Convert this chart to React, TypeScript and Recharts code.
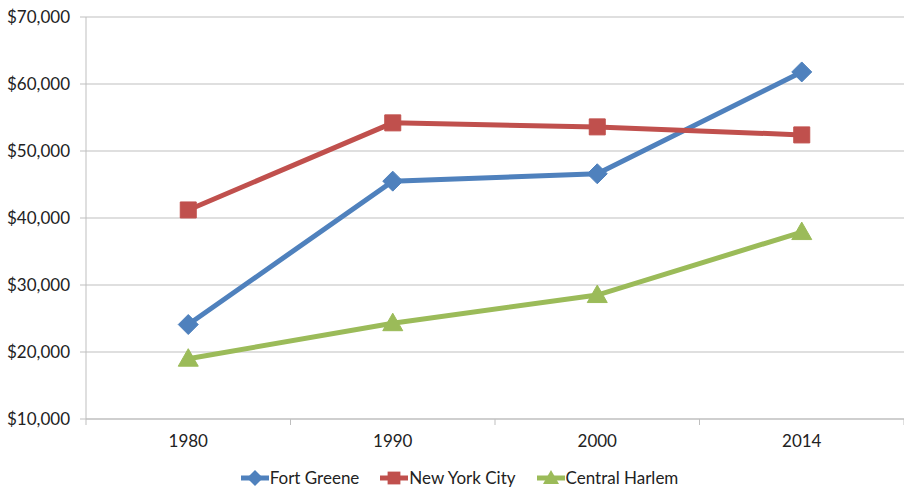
import { LineChart, Line, XAxis, YAxis, CartesianGrid, Legend } from "recharts"

const years = ["1980", "1990", "2000", "2014"]
const fortGreene = [24100, 45500, 46600, 61800]
const newYorkCity = [41200, 54200, 53600, 52400]
const centralHarlem = [19000, 24300, 28500, 37900]
const yTicks = [10000, 20000, 30000, 40000, 50000, 60000, 70000]

const BLUE = "#4f81bd"
const RED = "#c0504d"
const GREEN = "#9bbb59"
const FONT = "Lato, 'Open Sans', sans-serif"

const data = years.map((year, i) => ({
  x: i + 0.5,
  year,
  fortGreene: fortGreene[i],
  newYorkCity: newYorkCity[i],
  centralHarlem: centralHarlem[i],
}))

const xTicks = Array.from({ length: years.length * 2 + 1 }, (_, i) => i / 2)

function markerPath(shape: string, cx: number, cy: number, r: number) {
  if (shape === "diamond") return `M${cx},${cy - r}L${cx + r},${cy}L${cx},${cy + r}L${cx - r},${cy}Z`
  if (shape === "square") {
    const s = r * 0.8
    return `M${cx - s},${cy - s}L${cx + s},${cy - s}L${cx + s},${cy + s}L${cx - s},${cy + s}Z`
  }
  return `M${cx},${cy - r}L${cx + r},${cy + r * 0.75}L${cx - r},${cy + r * 0.75}Z`
}

function makeDot(shape: string, color: string) {
  return (props: any) => {
    const { cx, cy, index } = props
    if (cx == null || cy == null) return <g key={index} />
    return <path key={index} d={markerPath(shape, cx, cy, 10)} fill={color} stroke={color} strokeWidth={1} strokeLinejoin="round" />
  }
}

function XTick(props: any) {
  const { x, y, payload } = props
  const v = payload.value
  if (Number.isInteger(v)) {
    return <line x1={x} y1={y - 8} x2={x} y2={y - 2} stroke="#bfbfbf" strokeWidth={1} />
  }
  const label = years[Math.floor(v)]
  return (
    <text x={x} y={y + 20} textAnchor="middle" fontSize={17} fill="#222" fontFamily={FONT}>
      {label}
    </text>
  )
}

const legendItems = [
  { name: "Fort Greene", color: BLUE, shape: "diamond" },
  { name: "New York City", color: RED, shape: "square" },
  { name: "Central Harlem", color: GREEN, shape: "triangle" },
]

function LegendContent() {
  return (
    <div style={{ display: "flex", justifyContent: "center", gap: 20, fontFamily: FONT, fontSize: 17, color: "#222", paddingLeft: 14, lineHeight: "22px" }}>
      {legendItems.map((item) => (
        <div key={item.name} style={{ display: "flex", alignItems: "center" }}>
          <svg width={30} height={20}>
            <line x1={1} y1={10} x2={29} y2={10} stroke={item.color} strokeWidth={5} />
            <path d={markerPath(item.shape, 15, 10, 8)} fill={item.color} />
          </svg>
          <span>{item.name}</span>
        </div>
      ))}
    </div>
  )
}

export default function App() {
  return (
    <div style={{ position: "absolute", left: 0, top: 0, background: "#fff" }}>
      <LineChart width={904} height={489} data={data} margin={{ top: 17, right: 0, bottom: 0, left: 0 }}>
        <CartesianGrid vertical={false} stroke="#bfbfbf" strokeWidth={1} />
        <XAxis
          dataKey="x"
          type="number"
          domain={[0, years.length]}
          ticks={xTicks}
          interval={0}
          tickLine={false}
          axisLine={{ stroke: "#bfbfbf" }}
          tick={<XTick />}
          height={48}
        />
        <YAxis
          domain={[10000, 70000]}
          ticks={yTicks}
          width={86}
          tickSize={6}
          tickMargin={10}
          tickLine={{ stroke: "#bfbfbf" }}
          axisLine={{ stroke: "#bfbfbf" }}
          tick={{ fontSize: 17, fill: "#222", fontFamily: FONT }}
          tickFormatter={(v: number) => `$${v.toLocaleString("en-US")}`}
        />
        <Legend verticalAlign="bottom" height={22} content={<LegendContent />} />
        <Line dataKey="fortGreene" name="Fort Greene" stroke={BLUE} strokeWidth={5} dot={makeDot("diamond", BLUE)} isAnimationActive={false} />
        <Line dataKey="newYorkCity" name="New York City" stroke={RED} strokeWidth={5} dot={makeDot("square", RED)} isAnimationActive={false} />
        <Line dataKey="centralHarlem" name="Central Harlem" stroke={GREEN} strokeWidth={5} dot={makeDot("triangle", GREEN)} isAnimationActive={false} />
      </LineChart>
    </div>
  )
}
